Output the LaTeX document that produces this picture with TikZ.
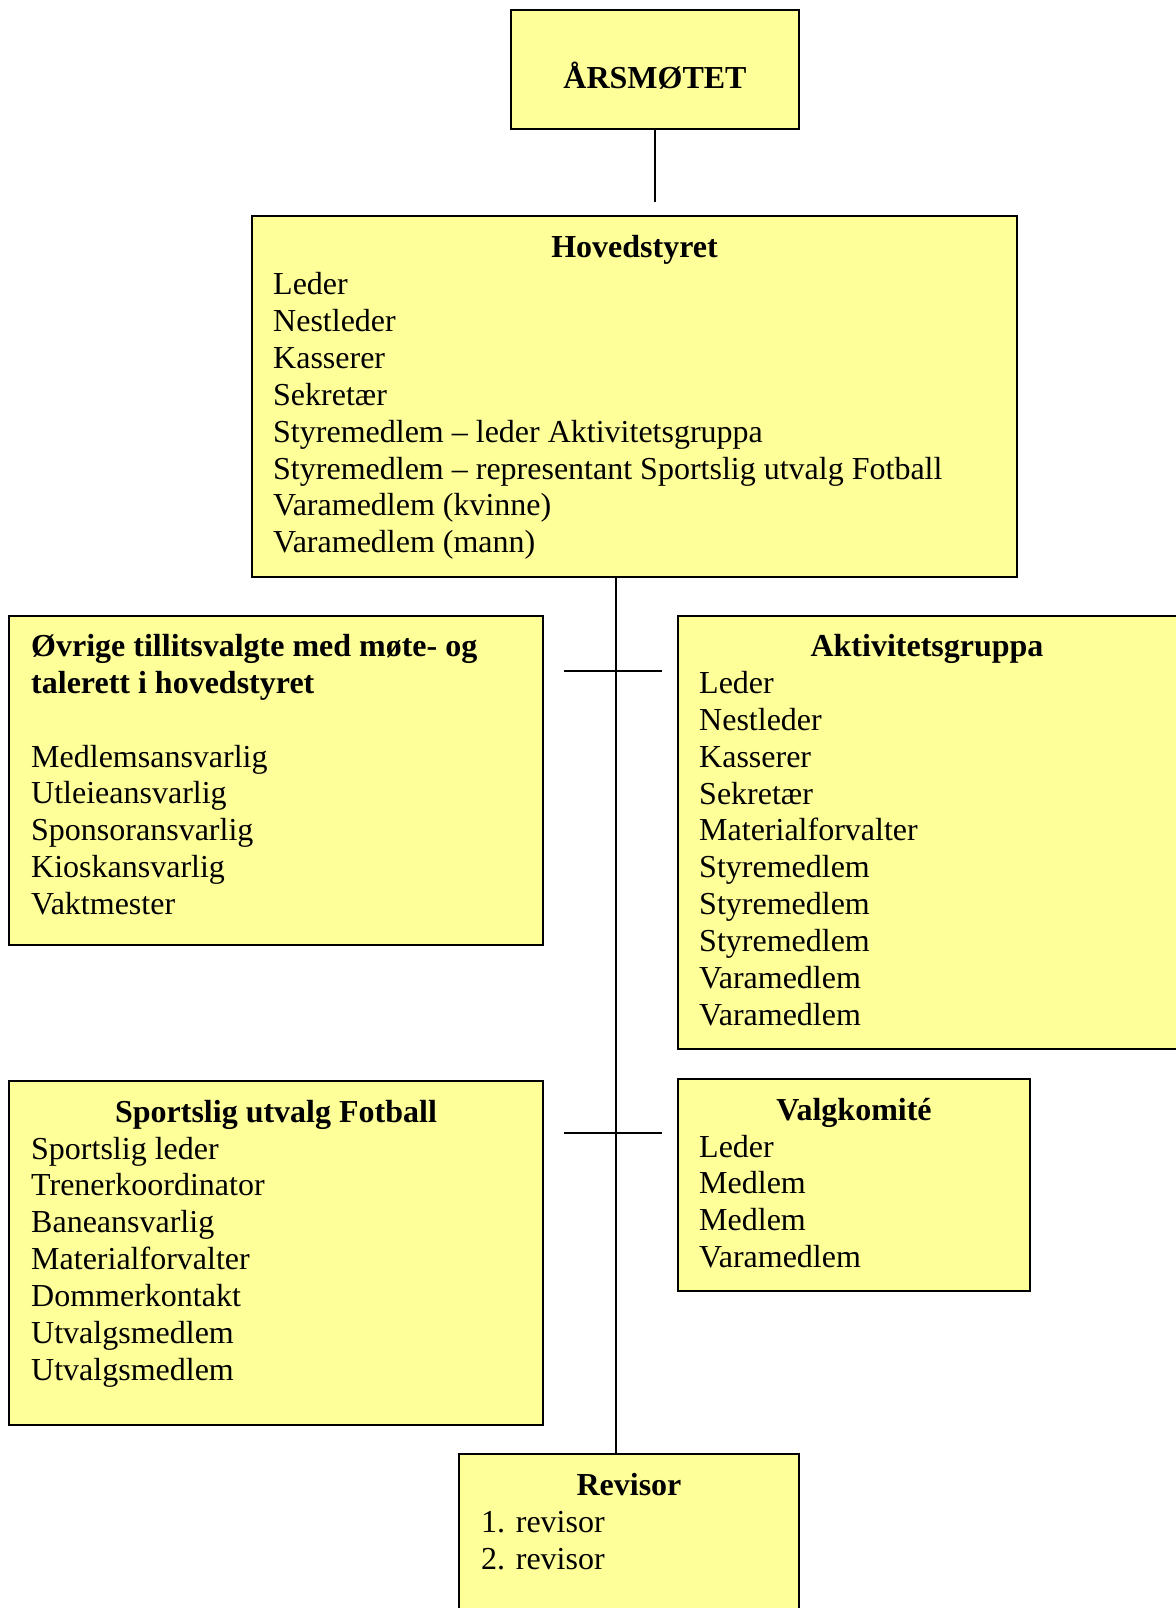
\documentclass[tikz,border=0pt]{standalone}
\usepackage{fontspec}
\setmainfont{Liberation Serif}
\definecolor{boxyellow}{HTML}{FFFF99}
\begin{document}
\begin{tikzpicture}[x=1pt,y=-1pt,
  box/.style={draw=black,fill=boxyellow,line width=1.8pt,rectangle,inner sep=0pt,outer sep=0pt,anchor=north west},
  txt/.style={anchor=base west,inner sep=0pt,font=\fontsize{32}{36.8}\selectfont},
  head/.style={anchor=base,inner sep=0pt,font=\fontsize{32}{36.8}\selectfont\bfseries},
  conn/.style={draw=black,line width=1.8pt}]
\useasboundingbox (0,0) rectangle (1175,1608);
% boxes
\node[box,minimum width=288pt,minimum height=119pt] (aars) at (511,10) {};
\node[box,minimum width=765pt,minimum height=361pt] (hs) at (252,216) {};
\node[box,minimum width=534pt,minimum height=329pt] (ov) at (9,616) {};
\node[box,minimum width=500pt,minimum height=433pt] (akt) at (678,616) {};
\node[box,minimum width=534pt,minimum height=344pt] (spu) at (9,1081) {};
\node[box,minimum width=352pt,minimum height=212pt] (valg) at (678,1079) {};
\node[box,minimum width=340pt,minimum height=180pt] (rev) at (459,1454) {};
% connectors
\coordinate (aend) at (655,202);
\draw[conn] (aars.south) -- (aend);
\coordinate (spine) at (616,0);
\draw[conn] (hs.south -| spine) -- (rev.north -| spine);
\coordinate (c1l) at (564,671);
\coordinate (c1r) at (662,671);
\coordinate (c2l) at (564,1133);
\coordinate (c2r) at (662,1133);
\draw[conn] (c1l) -- (c1r);
\draw[conn] (c2l) -- (c2r);
% texts
\node[head] (aarsT) at (655,89) {ÅRSMØTET};
\node[head] (hsT) at (634.5,257.5) {Hovedstyret};
\foreach \t [count=\i from 0] in {Leder,Nestleder,Kasserer,Sekretær,Styremedlem – leder Aktivitetsgruppa,Styremedlem – representant Sportslig utvalg Fotball,Varamedlem (kvinne),Varamedlem (mann)}
  \node[txt] (hs-\i) at (273,294.5+36.9*\i) {\t};
\node[txt,font=\fontsize{32}{36.8}\selectfont\bfseries] (ovT1) at (31,656.5) {Øvrige tillitsvalgte med møte- og};
\node[txt,font=\fontsize{32}{36.8}\selectfont\bfseries] (ovT2) at (31,693.3) {talerett i hovedstyret};
\foreach \t [count=\i from 0] in {Medlemsansvarlig,Utleieansvarlig,Sponsoransvarlig,Kioskansvarlig,Vaktmester}
  \node[txt] (ov-\i) at (31,767+36.9*\i) {\t};
\node[head] (aktT) at (927,656.5) {Aktivitetsgruppa};
\foreach \t [count=\i from 0] in {Leder,Nestleder,Kasserer,Sekretær,Materialforvalter,Styremedlem,Styremedlem,Styremedlem,Varamedlem,Varamedlem}
  \node[txt] (akt-\i) at (699,693.3+36.9*\i) {\t};
\node[head] (spuT) at (276,1122) {Sportslig utvalg Fotball};
\foreach \t [count=\i from 0] in {Sportslig leder,Trenerkoordinator,Baneansvarlig,Materialforvalter,Dommerkontakt,Utvalgsmedlem,Utvalgsmedlem}
  \node[txt] (spu-\i) at (31,1159+36.9*\i) {\t};
\node[head] (valgT) at (854,1120) {Valgkomité};
\foreach \t [count=\i from 0] in {Leder,Medlem,Medlem,Varamedlem}
  \node[txt] (valg-\i) at (699,1157+36.9*\i) {\t};
\node[head] (revT) at (629,1495.5) {Revisor};
\foreach \t [count=\i from 0] in {1. revisor,2. revisor}
  \node[txt] (rev-\i) at (481,1532.5+36.9*\i) {\t};
\end{tikzpicture}
\end{document}
